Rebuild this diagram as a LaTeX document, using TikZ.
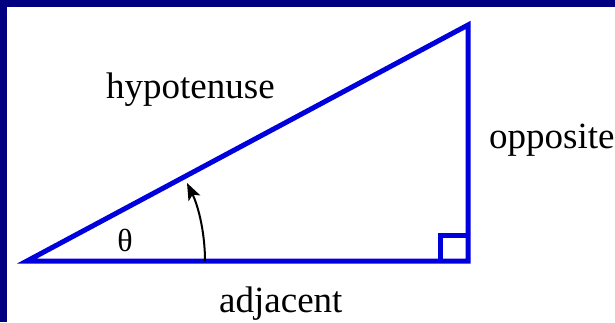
\documentclass[tikz,border=0pt]{standalone}
\usepackage{fontspec}
\setmainfont{Liberation Serif}
\usetikzlibrary{arrows.meta}
\definecolor{navy}{RGB}{0,0,128}
\definecolor{triblue}{RGB}{0,0,220}
\tikzset{
  side/.style={draw=triblue, line width=5pt},
  lbl/.style={inner sep=0pt, anchor=base west, font=\fontsize{37}{42}\selectfont},
  anglearrow/.style={draw=black, line width=2pt, -{Stealth[length=17pt,width=13pt,inset=4pt]}}
}
\begin{document}
\begin{tikzpicture}[x=1pt,y=-1pt]
\useasboundingbox (0,0) rectangle (615,322);
\fill[navy] (0,0) rectangle (615,322);
\fill[white] (7,7) rectangle (615,322);
\coordinate (A) at (27,261);
\coordinate (B) at (468,261);
\coordinate (C) at (468,25);
\coordinate (S1) at (440,261);
\coordinate (S2) at (440,235);
\coordinate (S3) at (468,235);
\draw[side] (A) -- (B) -- (C) -- cycle;
\draw[side] (S1) -- (S2) -- (S3);
\coordinate (R) at (205,261);
\draw[anglearrow] (R) arc[start angle=0, end angle=-26.0, radius=178];
\node[lbl] (hyp) at (106,98) {hypotenuse};
\node[lbl] (opp) at (489,148) {opposite};
\node[lbl] (adj) at (219,312) {adjacent};
\node[inner sep=0pt, font=\fontsize{32}{36}\selectfont] (th) at (125,240) {θ};
\end{tikzpicture}
\end{document}
